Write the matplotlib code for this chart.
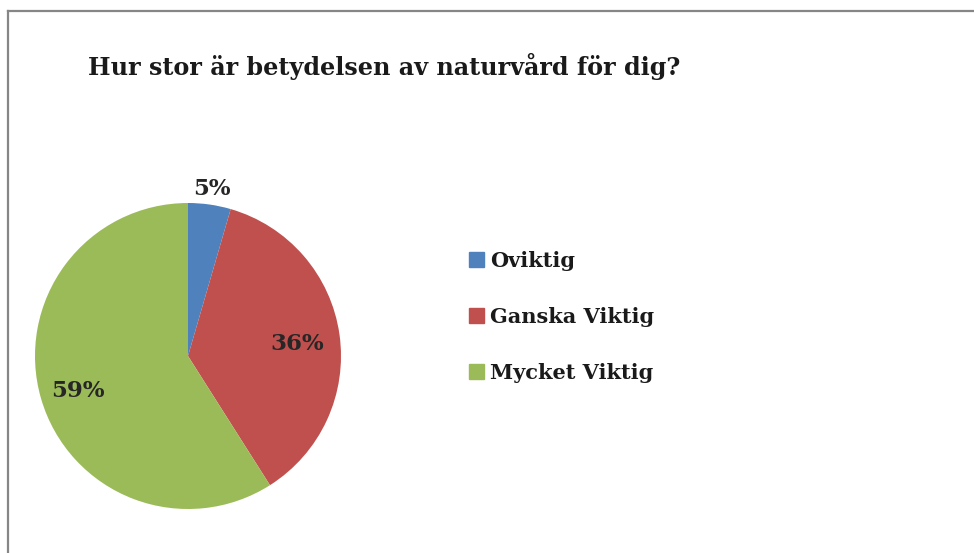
import matplotlib.pyplot as plt
import matplotlib.patches as mpatches
from matplotlib.lines import Line2D
import numpy as np

categories = ["Oviktig", "Ganska Viktig", "Mycket Viktig"]
values = [4.5, 36.5, 59.0]
pct_labels = ["5%", "36%", "59%"]
colors = ["#4F81BD", "#C0504D", "#9BBB59"]
label_dist = [1.12, 0.72, 0.75]

title = "Hur stor är betydelsen av naturvård för dig?"

W, H = 974, 553
fig = plt.figure(figsize=(W / 100, H / 100), dpi=100)
font = "DejaVu Serif"

# pie axes: centre (188, 356), radius 153 px
cx, cy, r = 188, 356, 153
ax = fig.add_axes([(cx - r) / W, (H - cy - r) / H, 2 * r / W, 2 * r / H])
wedges, _ = ax.pie(values, colors=colors, startangle=90, counterclock=False,
                   radius=1, wedgeprops=dict(linewidth=0))
ax.set_xlim(-1, 1)
ax.set_ylim(-1, 1)
ax.set_aspect("equal")
ax.axis("off")

for w, lab, d in zip(wedges, pct_labels, label_dist):
    ang = np.deg2rad((w.theta1 + w.theta2) / 2)
    ax.text(d * np.cos(ang), d * np.sin(ang) - 0.02, lab, ha="center", va="center",
            fontsize=16.5, fontweight="bold", family=font, color="#262626")

fig.text(88 / W, 1 - 66 / H, title, ha="left", va="center",
         fontsize=17.2, fontweight="bold", family=font, color="#1a1a1a")

handles = [mpatches.Patch(color=c, label=n) for c, n in zip(colors, categories)]
leg = fig.legend(handles=handles, loc="center left",
                 bbox_to_anchor=(469 / W, 1 - 317 / H), frameon=False,
                 borderaxespad=0, borderpad=0, handlelength=0.72,
                 handleheight=0.72, handletextpad=0.3, labelspacing=1.72,
                 prop=dict(family=font, weight="bold", size=15))
for t in leg.get_texts():
    t.set_color("#1a1a1a")

# chart border (only top and left edges visible in the crop)
fig.add_artist(Line2D([8 / W, 8 / W], [0, 1 - 11 / H], transform=fig.transFigure,
                      color="#868686", linewidth=1.6))
fig.add_artist(Line2D([8 / W, 1], [1 - 11 / H, 1 - 11 / H], transform=fig.transFigure,
                      color="#868686", linewidth=1.6))

fig.savefig("out.png", dpi=100)
